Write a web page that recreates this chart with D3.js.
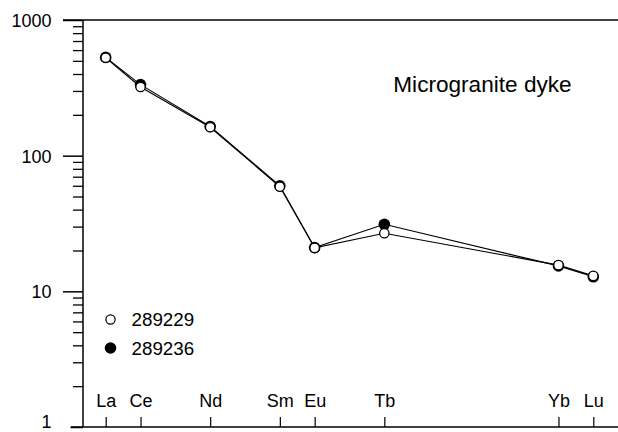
<!DOCTYPE html>
<html>
<head>
<meta charset="utf-8">
<script src="https://cdn.jsdelivr.net/npm/d3@7"></script>
<style>
  html, body { margin: 0; padding: 0; background: #fff; }
  svg { display: block; font-family: "Liberation Sans", Arial, sans-serif; }
</style>
</head>
<body>
<svg id="chart" width="618" height="432"></svg>
<script>
// ---- data ----
const elements = ["La", "Ce", "Nd", "Sm", "Eu", "Tb", "Yb", "Lu"];
const atomicNumbers = [57, 58, 60, 62, 63, 65, 70, 71];
const sample289229 = [527, 321, 162, 59, 20.9, 26.8, 15.6, 13.0];
const sample289236 = [530, 334, 164, 60, 21.0, 31.2, 15.4, 12.8];
const seriesNames = ["289229", "289236"];
const yMajorTicks = [1, 10, 100, 1000];
const yMinorTicks = [2,3,4,5,6,7,8,9,20,30,40,50,60,70,80,90,200,300,400,500,600,700,800,900];
const chartTitle = "Microgranite dyke";

(function () {
// ---- layout ----
const svg = d3.select("#chart");
const axisX = 83, plotTop = 20, plotBottom = 427, plotRight = 618;
const FONT = '"Liberation Sans", Arial, sans-serif';

const x = d3.scaleLinear().domain([57, 71]).range([105.7, 593.3]);
const y = d3.scaleLog().domain([1, 1000]).range([plotBottom, plotTop]);

// frame lines
svg.append("line").attr("x1", 63).attr("x2", plotRight).attr("y1", plotTop).attr("y2", plotTop)
  .attr("stroke", "#000").attr("stroke-width", 1.5);
svg.append("line").attr("x1", 70.7).attr("x2", plotRight).attr("y1", plotBottom).attr("y2", plotBottom)
  .attr("stroke", "#000").attr("stroke-width", 1.5);

// y minor ticks
const yMinor = svg.append("g").attr("transform", `translate(${axisX},0)`)
  .call(d3.axisLeft(y).tickValues(yMinorTicks).tickSize(10).tickSizeOuter(0).tickFormat(""));
yMinor.select(".domain").remove();
yMinor.selectAll("line").attr("stroke", "#000").attr("stroke-width", 1.3);

// y major ticks + labels
const yMajor = svg.append("g").attr("transform", `translate(${axisX},0)`)
  .call(d3.axisLeft(y).tickValues(yMajorTicks).tickSize(20).tickPadding(11.5).tickSizeOuter(0)
    .tickFormat(d3.format("d")));
yMajor.attr("font-size", 18).attr("font-family", FONT);
yMajor.select(".domain").remove();
yMajor.selectAll("line").attr("stroke", "#000").attr("stroke-width", 1.5)
  .attr("x2", d => d === 1 ? -12.3 : -20);
yMajor.selectAll("text").attr("fill", "#000")
  .attr("dy", d => d === 1 ? "0.04em" : "0.36em");

// y axis line
svg.append("line").attr("x1", axisX).attr("x2", axisX).attr("y1", plotTop).attr("y2", plotBottom)
  .attr("stroke", "#000").attr("stroke-width", 1.5);

// x axis ticks (pointing up) with element labels
const xAx = svg.append("g").attr("transform", `translate(0,${plotBottom})`)
  .call(d3.axisBottom(x).tickValues(atomicNumbers).tickSize(-10).tickSizeOuter(0)
    .tickFormat((d, i) => elements[i]));
xAx.attr("font-size", 18).attr("font-family", FONT);
xAx.select(".domain").remove();
xAx.selectAll("line").attr("stroke", "#000").attr("stroke-width", 1.2);
xAx.selectAll("text").attr("fill", "#000").attr("y", -20.5).attr("dy", 0);

// series
const line = d3.line().x(d => x(d[0])).y(d => y(d[1]));
const s2 = atomicNumbers.map((z, i) => [z, sample289236[i]]);
const s1 = atomicNumbers.map((z, i) => [z, sample289229[i]]);

svg.append("path").datum(s2).attr("d", line).attr("fill", "none")
  .attr("stroke", "#000").attr("stroke-width", 1.1);
svg.append("path").datum(s1).attr("d", line).attr("fill", "none")
  .attr("stroke", "#000").attr("stroke-width", 1.1);

svg.append("g").selectAll("circle").data(s2).join("circle")
  .attr("cx", d => x(d[0])).attr("cy", d => y(d[1])).attr("r", 5.8).attr("fill", "#000");
svg.append("g").selectAll("circle").data(s1).join("circle")
  .attr("cx", d => x(d[0])).attr("cy", d => y(d[1])).attr("r", 4.7)
  .attr("fill", "#fff").attr("stroke", "#000").attr("stroke-width", 1.3);

// legend
const legend = svg.append("g");
const legendY = [319.5, 348];
legend.append("circle").attr("cx", 110.5).attr("cy", legendY[0]).attr("r", 4.6)
  .attr("fill", "#fff").attr("stroke", "#000").attr("stroke-width", 1.2);
legend.append("circle").attr("cx", 110.5).attr("cy", legendY[1]).attr("r", 5.8)
  .attr("fill", "#000");
seriesNames.forEach((name, i) => {
  legend.append("text").attr("x", 131.5).attr("y", legendY[i]).attr("dy", "0.36em")
    .attr("font-size", 18.8).attr("font-family", FONT).attr("fill", "#000").text(name);
});

// title
svg.append("text").attr("x", 393.3).attr("y", 91.5).attr("font-size", 22.6)
  .attr("font-family", FONT).attr("fill", "#000").text(chartTitle);
})();
</script>
</body>
</html>
